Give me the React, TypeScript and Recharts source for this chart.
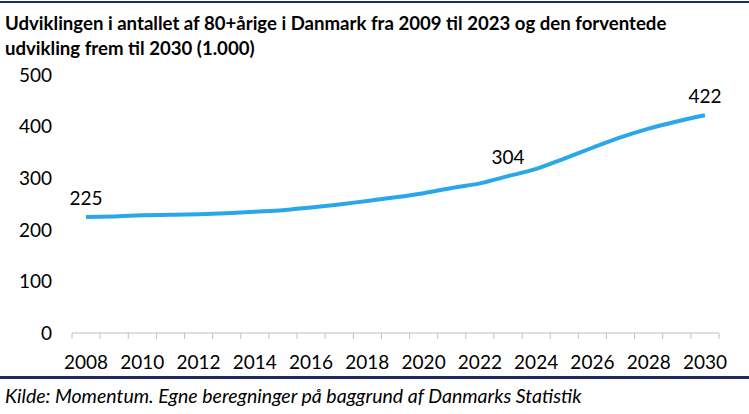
import React from "react";
import { LineChart, Line, XAxis, YAxis, LabelList } from "recharts";

const years = [
	"2008", "2009", "2010", "2011", "2012", "2013", "2014", "2015", "2016", "2017", "2018", "2019",
	"2020", "2021", "2022", "2023", "2024", "2025", "2026", "2027", "2028", "2029", "2030",
];
const antal = [
	225, 226, 228, 229, 230, 232, 235, 238, 243, 249, 256, 263,
	271, 281, 290, 304, 318, 338, 359, 379, 396, 410, 422,
];
const labelledYears = ["2008", "2023", "2030"];
const yTicks = [0, 100, 200, 300, 400, 500];

const data = years.map((year, i) => ({ year, antal: antal[i] }));

const W = 749;
const H = 414;
const PLOT_LEFT = 72;
const PLOT_RIGHT = 719;
const AXIS_Y = 333;
const STEP = (PLOT_RIGHT - PLOT_LEFT) / years.length;
const FONT = "Lato, 'Open Sans', sans-serif";
const NAVY = "#1f2a5e";
const BLUE = "#2aa7ea";

function XTick(props: any) {
	const { x, index, payload } = props;
	const yr = String(payload.value);
	const showLabel = Number(yr) % 2 === 0;
	return (
		<g>
			<line x1={x - STEP / 2} x2={x - STEP / 2} y1={AXIS_Y} y2={AXIS_Y + 6} stroke="#bfbfbf" />
			{index === years.length - 1 && (
				<line x1={x + STEP / 2} x2={x + STEP / 2} y1={AXIS_Y} y2={AXIS_Y + 6} stroke="#bfbfbf" />
			)}
			{showLabel && (
				<text x={x} y={369} textAnchor="middle" fontSize={19} fontFamily={FONT} fill="#000">
					{yr}
				</text>
			)}
		</g>
	);
}

function PointLabel(props: any) {
	const { x, y, index } = props;
	if (!labelledYears.includes(years[index])) return null;
	return (
		<text x={x} y={y - 12} textAnchor="middle" fontSize={19} fontFamily={FONT} fill="#000">
			{antal[index]}
		</text>
	);
}

export default function App() {
	return (
		<div style={{ position: "absolute", left: 0, top: 0, width: W, height: H, background: "#fff", fontFamily: FONT }}>
			<div style={{ position: "absolute", left: 0, top: 1, width: W, height: 2, background: NAVY }} />
			<div
				style={{
					position: "absolute",
					left: 5,
					top: 11,
					fontSize: 18.6,
					fontWeight: 700,
					lineHeight: "25px",
					color: "#000",
					width: 744,
					whiteSpace: "nowrap",
				}}
			>
				Udviklingen i antallet af 80+årige i Danmark fra 2009 til 2023 og den forventede
				<br />
				udvikling frem til 2030 (1.000)
			</div>
			<div style={{ position: "absolute", left: 0, top: 0 }}>
				<LineChart width={W} height={H} data={data} margin={{ top: 75, right: W - PLOT_RIGHT, left: 0, bottom: 0 }}>
					<XAxis
						dataKey="year"
						interval={0}
						height={H - AXIS_Y}
						padding={{ left: STEP / 2, right: STEP / 2 }}
						axisLine={{ stroke: "#bfbfbf" }}
						tickLine={false}
						tick={<XTick />}
					/>
					<YAxis
						width={PLOT_LEFT}
						domain={[0, 500]}
						ticks={yTicks}
						axisLine={false}
						tickLine={false}
						tickMargin={14}
						tick={{ fontSize: 19, fontFamily: FONT, fill: "#000" }}
					/>
					<Line
						type="monotone"
						dataKey="antal"
						stroke={BLUE}
						strokeWidth={4}
						dot={false}
						isAnimationActive={false}
					>
						<LabelList dataKey="antal" content={<PointLabel />} />
					</Line>
				</LineChart>
			</div>
			<div style={{ position: "absolute", left: 0, top: 376, width: W, height: 3, background: NAVY }} />
			<div
				style={{
					position: "absolute",
					left: 5,
					top: 385,
					fontSize: 19.5,
					fontStyle: "italic",
					color: "#000",
					lineHeight: "22px",
					whiteSpace: "nowrap",
				}}
			>
				Kilde: Momentum. Egne beregninger på baggrund af Danmarks Statistik
			</div>
		</div>
	);
}
